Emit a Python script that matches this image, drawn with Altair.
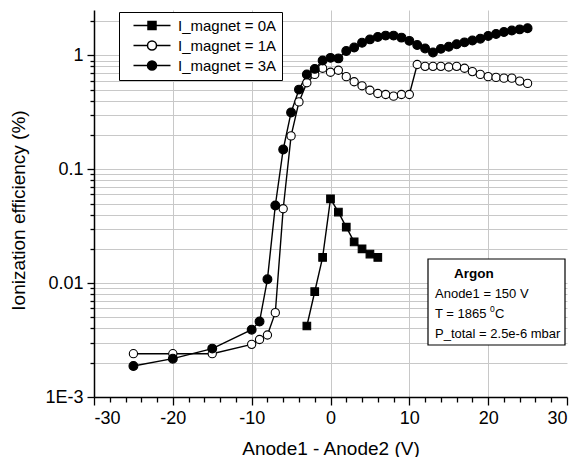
import altair as alt
import pandas as pd

# ---------------- data ----------------
series_names = ["I_magnet = 0A", "I_magnet = 1A", "I_magnet = 3A"]

x_0A = [-3, -2, -1, 0, 1, 2, 3, 4, 5, 6]
y_0A = [0.0042, 0.0084, 0.0168, 0.055, 0.042, 0.031, 0.023, 0.020, 0.018, 0.0168]

x_1A = [-25, -20, -15, -10, -9, -8, -7, -6, -5, -4, -3, -2, -1, 0, 1, 2, 3, 4, 5, 6,
        7, 8, 9, 10, 11, 12, 13, 14, 15, 16, 17, 18, 19, 20, 21, 22, 23, 24, 25]
y_1A = [0.0024, 0.0024, 0.0024, 0.0029, 0.0032, 0.0035, 0.0055, 0.045, 0.196, 0.39,
        0.574, 0.68, 0.77, 0.71, 0.74, 0.65, 0.586, 0.54, 0.494, 0.462,
        0.453, 0.438, 0.453, 0.453, 0.83, 0.80, 0.80, 0.80, 0.79, 0.80,
        0.77, 0.72, 0.68, 0.65, 0.64, 0.63, 0.63, 0.594, 0.567]

x_3A = [-25, -20, -15, -10, -9, -8, -7, -6, -5, -4, -3, -2, -1, 0, 1, 2, 3, 4, 5, 6,
        7, 8, 9, 10, 11, 12, 13, 14, 15, 16, 17, 18, 19, 20, 21, 22, 23, 24, 25]
y_3A = [0.00187, 0.00217, 0.00266, 0.0039, 0.0046, 0.0108, 0.048, 0.149, 0.315, 0.50,
        0.68, 0.76, 0.90, 0.95, 0.94, 1.09, 1.17, 1.29, 1.38, 1.45,
        1.49, 1.49, 1.43, 1.34, 1.23, 1.15, 1.06, 1.14, 1.19, 1.25,
        1.30, 1.35, 1.40, 1.48, 1.54, 1.60, 1.65, 1.69, 1.73]

x_ticks = [-30, -28, -26, -24, -22, -20, -18, -16, -14, -12, -10, -8, -6, -4, -2, 0,
           2, 4, 6, 8, 10, 12, 14, 16, 18, 20, 22, 24, 26, 28, 30]
y_ticks = [0.001, 0.002, 0.003, 0.004, 0.005, 0.006, 0.007, 0.008, 0.009,
           0.01, 0.02, 0.03, 0.04, 0.05, 0.06, 0.07, 0.08, 0.09,
           0.1, 0.2, 0.3, 0.4, 0.5, 0.6, 0.7, 0.8, 0.9,
           1, 2]

annot_lines = ["Argon", "Anode1 = 150 V", "T = 1865", "0", "C", "P_total = 2.5e-6 mbar"]
x_title = "Anode1 - Anode2 (V)"
y_title = "Ionization efficiency (%)"

rows = []
for name, xs, ys in zip(series_names, [x_0A, x_1A, x_3A], [y_0A, y_1A, y_3A]):
    for i, (xv, yv) in enumerate(zip(xs, ys)):
        rows.append({"series": name, "x": xv, "y": yv, "idx": i})
df = pd.DataFrame(rows)

FONT = "Liberation Sans"
W, H = 473, 387

x_axis = alt.Axis(
    values=x_ticks,
    labelExpr="datum.value % 10 === 0 ? '' + datum.value : ''",
    tickSize={"condition": {"test": "datum.value % 10 === 0", "value": 8}, "value": 5},
    gridOpacity={"condition": {"test": "datum.value % 10 === 0 && abs(datum.value) < 30", "value": 1}, "value": 0},
    labelPadding=4,
    title=x_title,
    titleY=51,
    titleBaseline="middle",
)
y_axis = alt.Axis(
    values=y_ticks,
    labelExpr="datum.value == 0.001 ? '1E-3' : datum.value == 0.01 ? '0.01' : datum.value == 0.1 ? '0.1' : datum.value == 1 ? '1' : ''",
    tickSize={"condition": {"test": "indexof([0.001, 0.01, 0.1, 1], datum.value) >= 0", "value": 7}, "value": 4},
    labelPadding=4,
    title=y_title,
    titleX=-76,
    titleY=200,
    titleAngle=-90,
    titleBaseline="middle",
)

x_enc = alt.X("x:Q", scale=alt.Scale(domain=[-30, 30], nice=False, zero=False), axis=x_axis)
y_enc = alt.Y("y:Q", scale=alt.Scale(type="log", domain=[0.001, 2.5], nice=False), axis=y_axis)

base = alt.Chart(df)

lines = base.mark_line(color="black", strokeWidth=1.4).encode(
    x=x_enc, y=y_enc, detail="series:N", order="idx:Q"
)

points = base.mark_point(filled=True, opacity=1, stroke="black", strokeWidth=1.1).encode(
    x=x_enc,
    y=y_enc,
    shape=alt.Shape("series:N", scale=alt.Scale(domain=series_names, range=["square", "circle", "circle"]), legend=None),
    fill=alt.Fill("series:N", scale=alt.Scale(domain=series_names, range=["black", "white", "black"]), legend=None),
    size=alt.Size("series:N", scale=alt.Scale(domain=series_names, range=[58, 78, 82]), legend=None),
)

legend_paths = [
    "M0.2,0H7.6M3.1,-0.8H4.7V0.8H3.1Z",
    "M0.2,0H3.0M4.8,0H7.6M4.8,0A0.9,0.9,0,1,1,3.0,0A0.9,0.9,0,1,1,4.8,0Z",
    "M0.2,0H3.0M4.8,0H7.6M4.8,0A0.9,0.9,0,1,1,3.0,0A0.9,0.9,0,1,1,4.8,0Z",
]

def mk_legend():
    return alt.Legend(
        orient="none", legendX=25, legendY=2, title=None,
        labelFont=FONT, labelFontSize=15, labelColor="black",
        strokeColor="black", fillColor="white", padding=6,
        symbolSize=100, labelOffset=38, rowPadding=4,
        symbolStrokeWidth=1.5, symbolStrokeColor="black",
    )

legend_layer = base.mark_point(filled=True, opacity=1, strokeWidth=1.5, size=100).encode(
    x=x_enc,
    y=y_enc,
    shape=alt.Shape("series:N", scale=alt.Scale(domain=series_names, range=legend_paths), legend=mk_legend()),
    fill=alt.Fill("series:N", scale=alt.Scale(domain=series_names, range=["black", "white", "black"]), legend=mk_legend()),
    stroke=alt.Stroke("series:N", scale=alt.Scale(domain=series_names, range=["black", "black", "black"]), legend=mk_legend()),
).transform_filter("datum.x > 1000")

one = pd.DataFrame({"a": [0]})
box = alt.Chart(one).mark_rect(fill="white", stroke="black", strokeWidth=1.2).encode(
    x=alt.value(334), x2=alt.value(471), y=alt.value(249), y2=alt.value(335)
)

def txt(s, px, py, size=13, weight="normal"):
    return alt.Chart(one).mark_text(
        text=s, align="left", baseline="middle", font=FONT, fontSize=size,
        fontWeight=weight, color="black"
    ).encode(x=alt.value(px), y=alt.value(py))

texts = [
    txt(annot_lines[0], 360, 264, 13.5, "bold"),
    txt(annot_lines[1], 341, 284),
    txt(annot_lines[2], 341, 304),
    txt(annot_lines[3], 396, 299, 8.5),
    txt(annot_lines[4], 401, 304),
    txt(annot_lines[5], 341, 324),
]

chart = alt.layer(lines, points, box, *texts, legend_layer).resolve_scale(
    shape="independent", fill="independent", size="independent", stroke="independent"
).properties(
    width=W, height=H,
    autosize=alt.AutoSizeParams(type="none"),
    padding={"left": 86, "top": 2, "right": 2, "bottom": 60},
).configure_view(stroke=None).configure_axis(
    labelFont=FONT, labelFontSize=18, labelColor="black",
    titleFont=FONT, titleFontSize=19, titleColor="black", titleFontWeight="normal",
    domainColor="black", domainWidth=1.5, tickColor="black", tickWidth=1.3,
    gridColor="#c8c8c8", gridWidth=1,
)

chart.save("out.html", embed_options={"renderer": "svg", "actions": False})
